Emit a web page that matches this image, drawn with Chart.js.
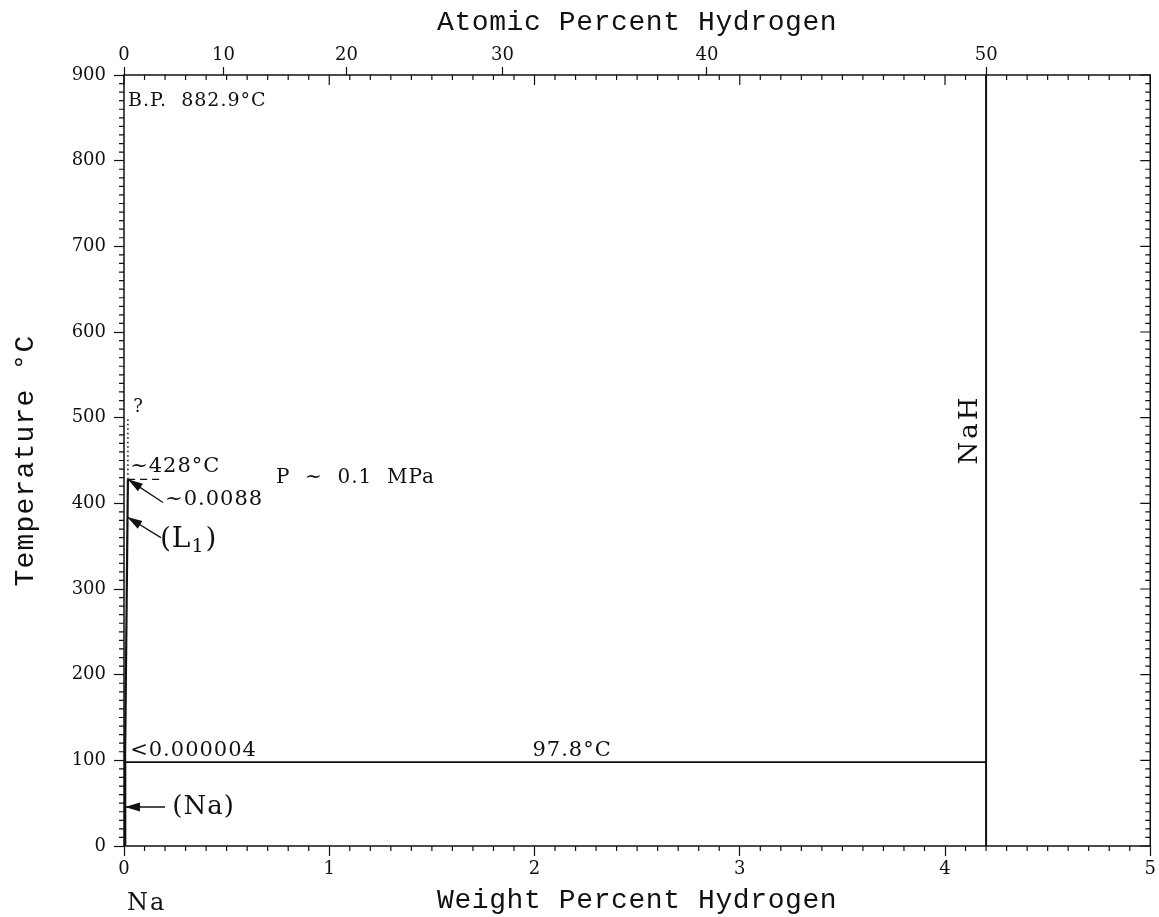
<!DOCTYPE html>
<html>
<head>
<meta charset="utf-8">
<script src="https://cdn.jsdelivr.net/npm/chart.js@4.4.1/dist/chart.umd.min.js"></script>
<style>
  html, body { margin: 0; padding: 0; background: #fff; }
  #wrap { width: 1159px; height: 917px; position: relative; }
</style>
</head>
<body>
<div id="wrap"><canvas id="phaseChart"></canvas></div>
<script>
// Na-H phase diagram, weight % H on the bottom axis, atomic % H on top
const wtTicks = [0, 1, 2, 3, 4, 5];
const tempTicks = [0, 100, 200, 300, 400, 500, 600, 700, 800, 900];
const atomicTicks = [0, 10, 20, 30, 40, 50];

// phase boundaries (wt% H, °C)
const naSolidusX = [0.004, 0.004];
const naSolidusT = [0, 97.8];
const liquidusX = [0.005, 0.019];
const liquidusT = [97.8, 428];
const monotecticX = [0.02, 0.19];
const monotecticT = [428, 428];
const uncertainX = [0.019, 0.019];
const uncertainT = [428, 500];
const eutecticX = [0, 4.2];
const eutecticT = [97.8, 97.8];
const nahX = [4.2, 4.2];
const nahT = [0, 900];

// text labels placed in data units
const notes = [
  { text: "B.P.  882.9°C", x: 0.02, t: 869, size: 19 },
  { text: "?", x: 0.045, t: 512, size: 18 },
  { text: "~428°C", x: 0.03, t: 443, size: 21 },
  { text: "~0.0088", x: 0.2, t: 405, size: 21 },
  { text: "P  ~  0.1  MPa", x: 0.74, t: 430, size: 20 },
  { text: "<0.000004", x: 0.03, t: 112, size: 21 },
  { text: "97.8°C", x: 1.99, t: 112, size: 21 },
  { text: "(Na)", x: 0.235, t: 45, size: 26 }
];
const arrows = [
  { from: [0.19, 401], to: [0.019, 428] },
  { from: [0.18, 360], to: [0.016, 384] },
  { from: [0.2, 45.5], to: [0.005, 45.5] }
];

function atToWt(a) {
  return 100 * a * 1.008 / (a * 1.008 + (100 - a) * 22.99);
}

function pts(xs, ts) {
  return xs.map((x, i) => ({ x: x, y: ts[i] }));
}

const serif = "'DejaVu Serif', serif";
const mono = "'Liberation Mono', monospace";

const decorPlugin = {
  id: "decor",
  afterDatasetsDraw(chart) {
    const ctx = chart.ctx;
    const a = chart.chartArea;
    const xs = chart.scales.x, ys = chart.scales.y;
    ctx.save();
    ctx.strokeStyle = "#111";
    ctx.fillStyle = "#111";

    // frame
    ctx.lineWidth = 1.5;
    ctx.strokeRect(a.left, a.top, a.right - a.left, a.bottom - a.top);

    // minor / mirrored ticks
    ctx.lineWidth = 1.2;
    ctx.beginPath();
    for (let i = 0; i <= 50; i++) {
      const px = xs.getPixelForValue(i / 10);
      const major = i % 10 === 0;
      if (!major) {
        ctx.moveTo(px, a.bottom); ctx.lineTo(px, a.bottom + 5);
      }
      ctx.moveTo(px, a.top); ctx.lineTo(px, a.top + (major ? 10 : 5));
    }
    for (let i = 0; i <= 90; i++) {
      const py = ys.getPixelForValue(i * 10);
      const major = i % 10 === 0;
      if (!major) {
        ctx.moveTo(a.left, py); ctx.lineTo(a.left - 5, py);
      }
      ctx.moveTo(a.right, py); ctx.lineTo(a.right - (major ? 10 : 5), py);
    }
    ctx.stroke();

    // arrows
    ctx.lineWidth = 1.3;
    arrows.forEach(ar => {
      const x0 = xs.getPixelForValue(ar.from[0]), y0 = ys.getPixelForValue(ar.from[1]);
      const x1 = xs.getPixelForValue(ar.to[0]), y1 = ys.getPixelForValue(ar.to[1]);
      const ang = Math.atan2(y1 - y0, x1 - x0);
      ctx.beginPath();
      ctx.moveTo(x0, y0); ctx.lineTo(x1, y1);
      ctx.stroke();
      const L = 15, W = 4.5;
      ctx.beginPath();
      ctx.moveTo(x1, y1);
      ctx.lineTo(x1 - L * Math.cos(ang) + W * Math.sin(ang), y1 - L * Math.sin(ang) - W * Math.cos(ang));
      ctx.lineTo(x1 - L * Math.cos(ang) - W * Math.sin(ang), y1 - L * Math.sin(ang) + W * Math.cos(ang));
      ctx.closePath();
      ctx.fill();
    });

    // labels
    ctx.textBaseline = "middle";
    ctx.textAlign = "left";
    ctx.letterSpacing = "1px";
    notes.forEach(n => {
      ctx.font = n.size + "px " + serif;
      ctx.fillText(n.text, xs.getPixelForValue(n.x), ys.getPixelForValue(n.t));
    });

    // (L1) with subscript
    let lx = xs.getPixelForValue(0.175), ly = ys.getPixelForValue(357);
    ctx.font = "28px " + serif;
    ctx.fillText("(L", lx, ly);
    lx += ctx.measureText("(L").width;
    ctx.font = "19px " + serif;
    ctx.fillText("1", lx, ly + 7);
    lx += ctx.measureText("1").width + 1;
    ctx.font = "28px " + serif;
    ctx.fillText(")", lx, ly);

    // NaH rotated
    ctx.save();
    ctx.translate(xs.getPixelForValue(4.125), ys.getPixelForValue(486));
    ctx.rotate(-Math.PI / 2);
    ctx.textAlign = "center";
    ctx.letterSpacing = "3px";
    ctx.font = "26px " + serif;
    ctx.fillText("NaH", 0, 0);
    ctx.restore();

    // Na under the axis
    ctx.textAlign = "left";
    ctx.letterSpacing = "2px";
    ctx.font = "24px " + serif;
    ctx.fillText("Na", xs.getPixelForValue(0) + 3, a.bottom + 58);

    // axis titles
    const cx = (a.left + a.right) / 2;
    ctx.font = "28px " + mono;
    ctx.letterSpacing = "0.6px";
    ctx.textAlign = "center";
    ctx.fillText("Weight Percent Hydrogen", cx, a.bottom + 55);
    ctx.fillText("Atomic Percent Hydrogen", cx, 23);
    ctx.save();
    ctx.translate(26, (a.top + a.bottom) / 2);
    ctx.rotate(-Math.PI / 2);
    ctx.letterSpacing = "1.2px";
    ctx.fillText("Temperature °C", 0, 0);
    ctx.restore();

    ctx.restore();
  }
};

const lineSet = (data, width, dash) => ({
  data: data,
  showLine: true,
  borderColor: "#111",
  borderWidth: width,
  borderDash: dash || [],
  pointRadius: 0,
  fill: false
});

const tickFont = { family: serif, size: 18 };

new Chart(document.getElementById("phaseChart"), {
  type: "scatter",
  data: {
    datasets: [
      lineSet(pts(naSolidusX, naSolidusT), 3),
      lineSet(pts(liquidusX, liquidusT), 2.2),
      lineSet(pts(monotecticX, monotecticT), 1.3, [7, 5]),
      lineSet(pts(uncertainX, uncertainT), 1.5, [1.5, 3]),
      lineSet(pts(eutecticX, eutecticT), 1.8),
      lineSet(pts(nahX, nahT), 2)
    ]
  },
  options: {
    responsive: true,
    maintainAspectRatio: false,
    animation: false,
    layout: { padding: { left: 0, right: 8, top: 0, bottom: 0 } },
    plugins: { legend: { display: false }, tooltip: { enabled: false } },
    scales: {
      x: {
        type: "linear",
        position: "bottom",
        min: 0,
        max: 5,
        afterBuildTicks: s => { s.ticks = wtTicks.map(v => ({ value: v })); },
        afterFit: s => { s.height = 71; },
        ticks: { font: tickFont, color: "#111", padding: 3, maxRotation: 0, autoSkip: false },
        grid: { drawOnChartArea: false, drawTicks: true, tickLength: 10, tickColor: "#111", tickWidth: 1.2 },
        border: { display: false }
      },
      x2: {
        type: "linear",
        position: "top",
        min: 0,
        max: 5,
        afterBuildTicks: s => { s.ticks = atomicTicks.map(a => ({ value: atToWt(a) })); },
        afterFit: s => { s.height = 75; },
        ticks: {
          font: tickFont, color: "#111", padding: 1, maxRotation: 0, autoSkip: false,
          callback: (v, i) => atomicTicks[i]
        },
        grid: { drawOnChartArea: false, drawTicks: true, tickLength: 8, tickColor: "#111", tickWidth: 1.2 },
        border: { display: false }
      },
      y: {
        type: "linear",
        position: "left",
        min: 0,
        max: 900,
        afterBuildTicks: s => { s.ticks = tempTicks.map(v => ({ value: v })); },
        afterFit: s => { s.width = 124; },
        ticks: { font: tickFont, color: "#111", padding: 8, autoSkip: false },
        grid: { drawOnChartArea: false, drawTicks: true, tickLength: 10, tickColor: "#111", tickWidth: 1.2 },
        border: { display: false }
      }
    }
  },
  plugins: [decorPlugin]
});
</script>
</body>
</html>
